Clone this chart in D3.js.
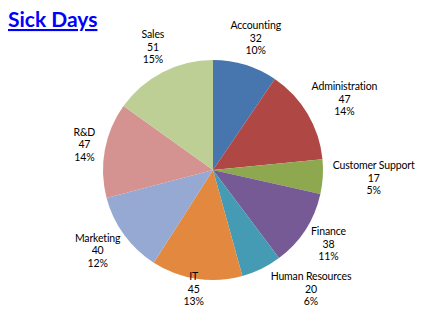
<!DOCTYPE html>
<html><head><meta charset="utf-8">
<script src="https://cdn.jsdelivr.net/npm/d3@7"></script>
<style>
html,body{margin:0;padding:0;background:#fff;}
svg{display:block;}
</style></head>
<body>
<svg id="chart" width="423" height="329"></svg>
<script>
const title = "Sick Days";
const categories = ["Accounting","Administration","Customer Support","Finance","Human Resources","IT","Marketing","R&D","Sales"];
const values = [32,47,17,38,20,45,40,47,51];
const colors = ["#4775AE","#AF4745","#8DA84F","#755A95","#449BB3","#E3883F","#95A9D3","#D49391","#BDCF95"];

const W = 423, H = 329;
const cx = 213, cy = 170, r = 110;
const fontFamily = "Lato, 'Open Sans', sans-serif";
const fontSize = 10.5, lineH = 12.5, gap = 8, maxBottom = 309;

const svg = d3.select("#chart");
const total = d3.sum(values);

// percentages rounded so they add up to 100 (largest remainder)
const raw = values.map(v => v/total*100);
const pct = raw.map(Math.floor);
let left = 100 - d3.sum(pct);
raw.map((v,i)=>({i, rem:v-Math.floor(v)})).sort((a,b)=>b.rem-a.rem)
  .slice(0,left).forEach(o=>pct[o.i]+=1);

const data = categories.map((c,i)=>({cat:c, value:values[i], pct:pct[i], color:colors[i]}));
const pie = d3.pie().value(d=>d.value).sort(null);
const arcs = pie(data);
const arc = d3.arc().innerRadius(0).outerRadius(r);

const g = svg.append("g").attr("transform",`translate(${cx},${cy})`);
g.selectAll("path").data(arcs).join("path")
  .attr("d",arc).attr("fill",d=>d.data.color);

// title
svg.append("text").attr("x",8).attr("y",27)
  .attr("font-family","Lato, 'Open Sans', sans-serif").attr("font-weight","bold")
  .attr("font-size",21).attr("fill","#0000FF").attr("text-decoration","underline")
  .text(title);

// labels
const lab = svg.append("g");
arcs.forEach(a=>{
  const lines = [a.data.cat, String(a.data.value), a.data.pct + "%"];
  const t = lab.append("text").attr("font-family",fontFamily).attr("font-size",fontSize)
    .attr("fill","#000").attr("text-anchor","middle").attr("letter-spacing","-0.15");
  const spans = lines.map((s,i)=>t.append("tspan").attr("x",0).attr("dy", i===0?0:lineH).text(s));
  const w = d3.max(spans, s=>s.node().getComputedTextLength()) + 4;
  const h = lineH*3 + 2;
  const ang = (a.startAngle + a.endAngle)/2;
  const s = Math.sin(ang), c = -Math.cos(ang);
  let px = cx + (r+gap)*s, py = cy + (r+gap)*c;
  let bx = px + s*w/2, by = py + c*h/2;
  if (by + h/2 > maxBottom) {
    by = maxBottom - h/2;
    if (Math.abs(s) > 0.3) {
      const top = by - h/2 - cy;
      const rr = r + gap/2;
      const dx = Math.sqrt(Math.max(0, rr*rr - top*top));
      bx = s>0 ? cx + dx + w/2 : cx - dx - w/2;
    }
  }
  const y0 = by - h/2 + fontSize;
  t.attr("transform",`translate(${bx},${y0})`);
});
</script>
</body></html>
